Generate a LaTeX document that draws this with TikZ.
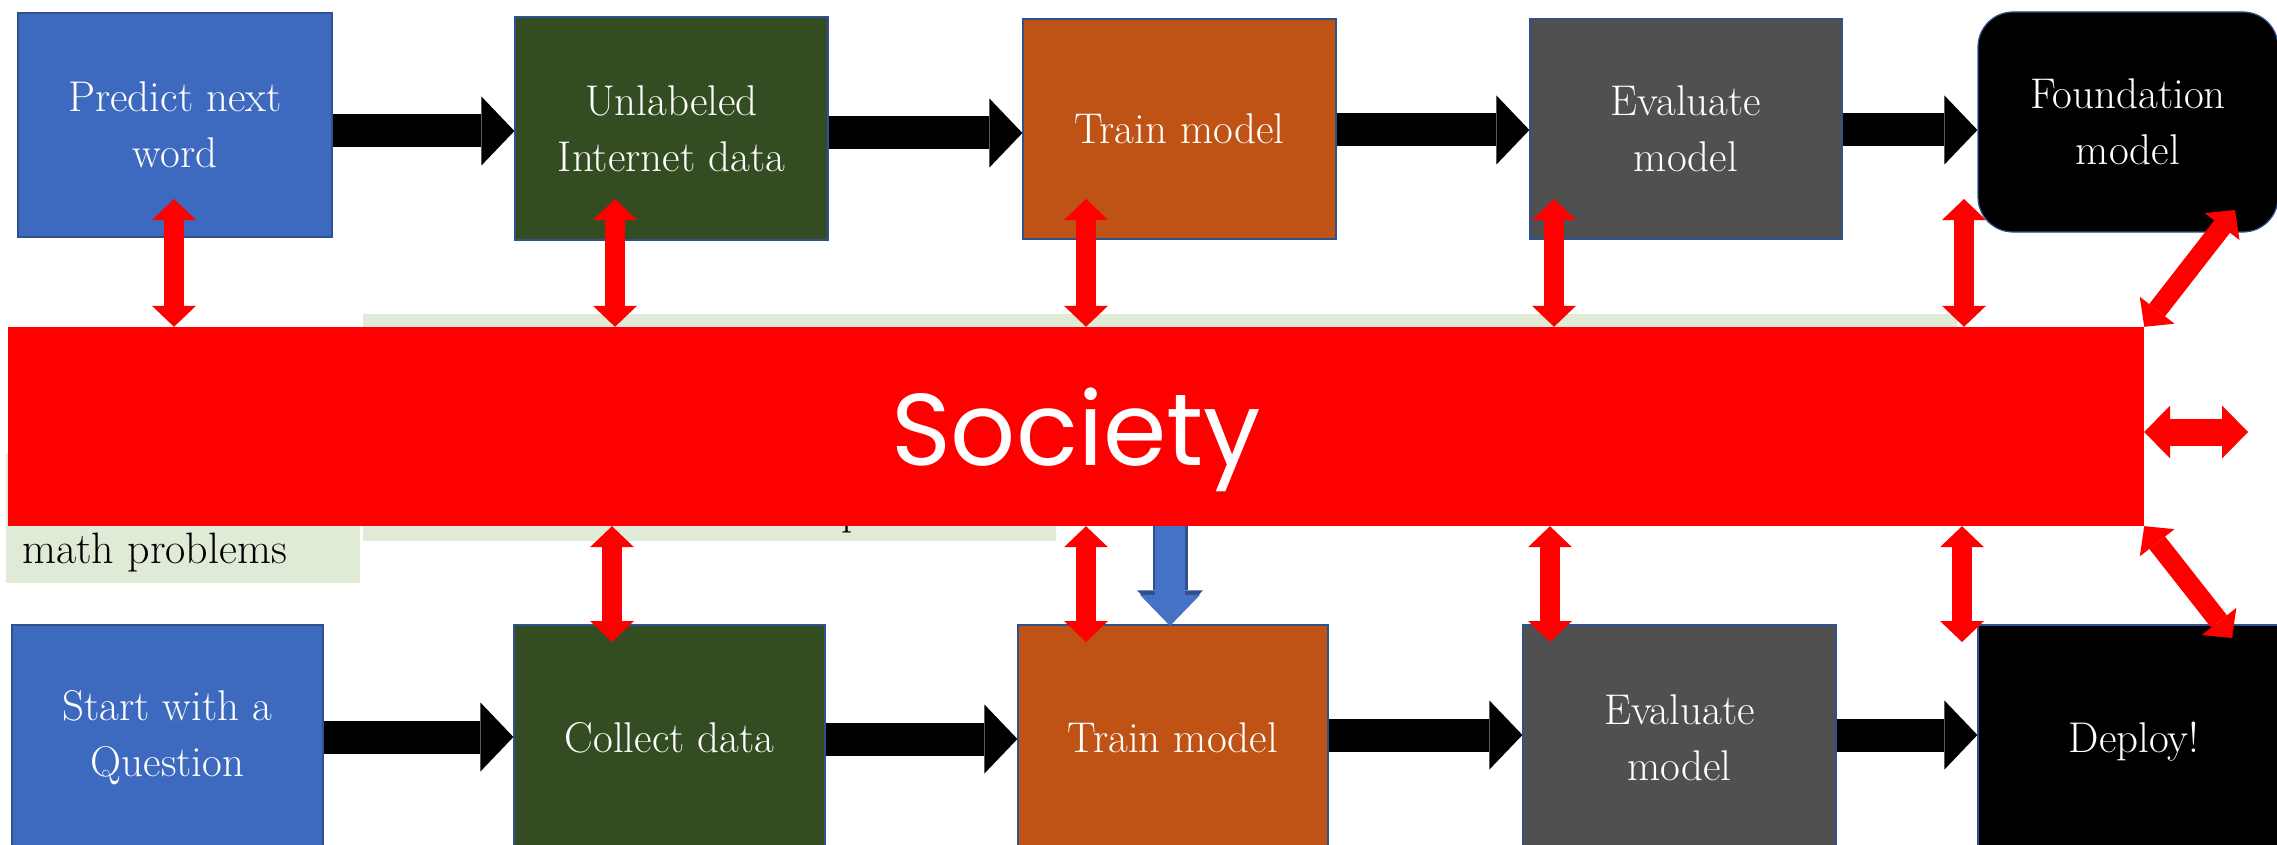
\documentclass[tikz,border=0pt]{standalone}
\usepackage{fontspec}
\newfontfamily\socfont{Poppins}
\usetikzlibrary{arrows.meta}

\definecolor{boxblue}{HTML}{3D69BE}
\definecolor{boxgreen}{HTML}{344C21}
\definecolor{boxorange}{HTML}{BF5316}
\definecolor{boxgray}{HTML}{505050}
\definecolor{edgeblue}{HTML}{2F528F}
\definecolor{paleGreen}{HTML}{DFEBD6}
\definecolor{arrowblue}{HTML}{4472C4}
\definecolor{arrownavy}{HTML}{2F4F8F}

\tikzset{
  stage/.style={draw=edgeblue, line width=1.2pt, text=white, align=center,
    inner sep=0pt, font=\fontsize{43}{56}\selectfont},
  flow/.style={black, line width=33pt,
    -{Triangle[width=69pt,length=33pt,line width=0pt]}},
  link/.style={red, line width=20pt,
    {Triangle[width=44pt,length=21pt,line width=0pt]}-{Triangle[width=44pt,length=21pt,line width=0pt]}},
  widelink/.style={red, line width=27pt,
    {Triangle[width=53pt,length=26pt,line width=0pt]}-{Triangle[width=53pt,length=26pt,line width=0pt]}},
  notefont/.style={font=\fontsize{44}{50}\selectfont, text=black, inner sep=0pt},
}

\begin{document}
\begin{tikzpicture}[x=1pt,y=-1pt]
\useasboundingbox (0,0) rectangle (2277,845);
\clip (0,0) rectangle (2277,845);

% pale green note panels behind the society bar
\node[fill=paleGreen, inner sep=0pt, minimum width=1594, minimum height=206, anchor=north west] (gA) at (363,314) {};
\node[fill=paleGreen, inner sep=0pt, minimum width=693, minimum height=91, anchor=north west] (gB) at (363,450) {};
\node[fill=paleGreen, inner sep=0pt, minimum width=354, minimum height=130, anchor=north west] (gL) at (6,453) {};
\node[notefont, anchor=base west] (mathtxt) at (22,563) {math problems};
\node[notefont, anchor=base west] (ptxt) at (841,524) {p};

% top row
\node[stage, fill=boxblue,   minimum width=314, minimum height=224] (p1) at (175,125)    {Predict next\\word};
\node[stage, fill=boxgreen,  minimum width=313, minimum height=223] (u1) at (671.5,128.5) {Unlabeled\\Internet data};
\node[stage, fill=boxorange, minimum width=313, minimum height=220] (t1) at (1179.5,129) {Train model};
\node[stage, fill=boxgray,   minimum width=312, minimum height=220] (e1) at (1686,129)   {Evaluate\\model};
\node[stage, fill=black, rounded corners=35pt, minimum width=300, minimum height=220] (f1) at (2128,122) {Foundation\\model};

% bottom row
\node[stage, fill=boxblue,   minimum width=311, minimum height=225] (s2) at (167.5,737.5) {Start with a\\Question};
\node[stage, fill=boxgreen,  minimum width=311, minimum height=225] (c2) at (669.5,737.5) {Collect data};
\node[stage, fill=boxorange, minimum width=310, minimum height=225] (t2) at (1173,737.5)  {Train model};
\node[stage, fill=boxgray,   minimum width=313, minimum height=225] (e2) at (1679.5,737.5) {Evaluate\\model};
\node[stage, fill=black,     minimum width=312, minimum height=225, text depth=0pt] (d2) at (2134,737.5) {Deploy!};

% blue arrow into the lower training step
\coordinate (bstart) at (1170,480);
\draw[arrownavy, line width=35pt, -{Triangle[width=66pt,length=34pt,line width=0pt]}] (bstart) -- (t2.north -| bstart);
\draw[arrowblue, line width=30pt, -{Triangle[width=60pt,length=31pt,line width=0pt]}] (bstart) -- ([yshift=-1.5pt]t2.north -| bstart);

% pipeline arrows
\draw[flow] (p1.east |- 0,131) -- (u1.west |- 0,131);
\draw[flow] (u1.east |- 0,133) -- (t1.west |- 0,133);
\draw[flow] (t1.east |- 0,130) -- (e1.west |- 0,130);
\draw[flow] (e1.east |- 0,130) -- (f1.west |- 0,130);
\draw[flow] (s2.east |- 0,737) -- (c2.west |- 0,737);
\draw[flow] (c2.east |- 0,739) -- (t2.west |- 0,739);
\draw[flow] (t2.east |- 0,735) -- (e2.west |- 0,735);
\draw[flow] (e2.east |- 0,735) -- (d2.west |- 0,735);

% society bar
\node[fill=red, inner sep=0pt, minimum width=2136, minimum height=199, text=white,
      font=\socfont\fontsize{102}{120}\selectfont, text depth=0pt] (soc) at (1076,426.5) {Society};

% links between society and the steps
\coordinate (q1) at (174,199);
\coordinate (q2) at (615,199);
\coordinate (q3) at (1086,199);
\coordinate (q4) at (1554,199);
\coordinate (q5) at (1964,199);
\foreach \q in {q1,q2,q3,q4,q5} \draw[link] (\q) -- (\q |- soc.north);

\coordinate (w1) at (612,642);
\coordinate (w2) at (1086,642);
\coordinate (w3) at (1550,642);
\coordinate (w4) at (1962,642);
\foreach \w in {w1,w2,w3,w4} \draw[link] (\w |- soc.south) -- (\w);

\coordinate (dtop) at (2235,210);
\coordinate (dbot) at (2232,638);
\coordinate (hend) at (2248,432);
\draw[link] (soc.north east) -- (dtop);
\draw[link] (soc.south east) -- (dbot);
\draw[widelink] (soc.east |- hend) -- (hend);
\end{tikzpicture}
\end{document}
